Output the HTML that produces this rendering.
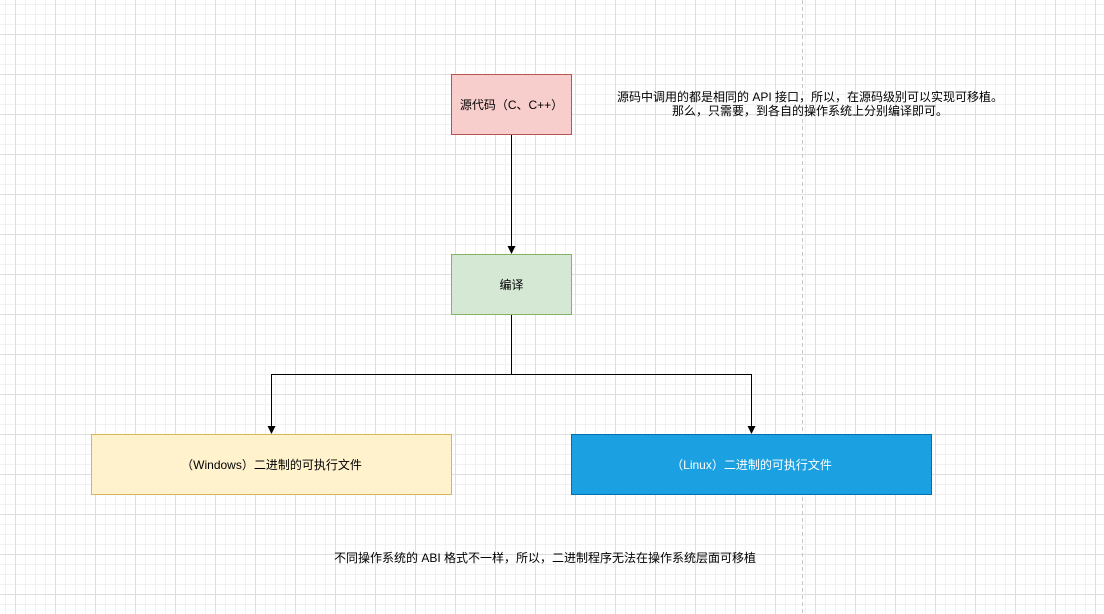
<!DOCTYPE html>
<html><head><meta charset="utf-8"><style>
html,body{margin:0;padding:0}
body{width:1104px;height:614px;position:relative;overflow:hidden;background:#fff;
background-image:
linear-gradient(to right,#dedede 1px,transparent 1px),
linear-gradient(to bottom,#dedede 1px,transparent 1px),
linear-gradient(to right,#f1f1f1 1px,transparent 1px),
linear-gradient(to bottom,#f1f1f1 1px,transparent 1px);
background-size:40px 40px,40px 40px,10px 10px,10px 10px;
background-position:15px 34px,15px 34px,5px 4px,5px 4px;
font-family:"Liberation Sans","Noto Sans CJK SC",sans-serif;font-size:12px;color:#000}
.b{position:absolute;box-sizing:border-box;display:flex;align-items:center;justify-content:center;text-align:center}
.t{position:absolute;text-align:center;line-height:14px}
</style></head><body>
<svg width="1104" height="614" style="position:absolute;left:0;top:0">
<line x1="802.5" y1="0" x2="802.5" y2="614" stroke="#c8c8c8" stroke-dasharray="4 3"/>
<g stroke="#000" fill="none">
<line x1="511.5" y1="134" x2="511.5" y2="248"/>
<polyline points="511.5,315 511.5,374.5 271.5,374.5 271.5,428"/>
<polyline points="511.5,374.5 751.5,374.5 751.5,428"/>
</g>
<g fill="#000">
<polygon points="507.5,246 515.5,246 511.5,254"/>
<polygon points="267.5,426 275.5,426 271.5,434"/>
<polygon points="747.5,426 755.5,426 751.5,434"/>
</g>
</svg>
<div class="b" style="left:451px;top:74px;width:121px;height:61px;background:#f8cecc;border:1px solid #b85450">源代码（C、C++）</div>
<div class="b" style="left:451px;top:254px;width:121px;height:61px;background:#d5e8d4;border:1px solid #82b366">编译</div>
<div class="b" style="left:91px;top:434px;width:361px;height:61px;background:#fff2cc;border:1px solid #d6b656">（Windows）二进制的可执行文件</div>
<div class="b" style="left:571px;top:434px;width:361px;height:61px;background:#1ba1e2;border:1px solid #006eaf;color:#fff">（Linux）二进制的可执行文件</div>
<div class="t" style="left:600px;top:90px;width:420px">源码中调用的都是相同的 API 接口，所以，在源码级别可以实现可移植。<br>那么，只需要，到各自的操作系统上分别编译即可。</div>
<div class="t" style="left:300px;top:551px;width:490px">不同操作系统的 ABI 格式不一样，所以，二进制程序无法在操作系统层面可移植</div>
</body></html>
